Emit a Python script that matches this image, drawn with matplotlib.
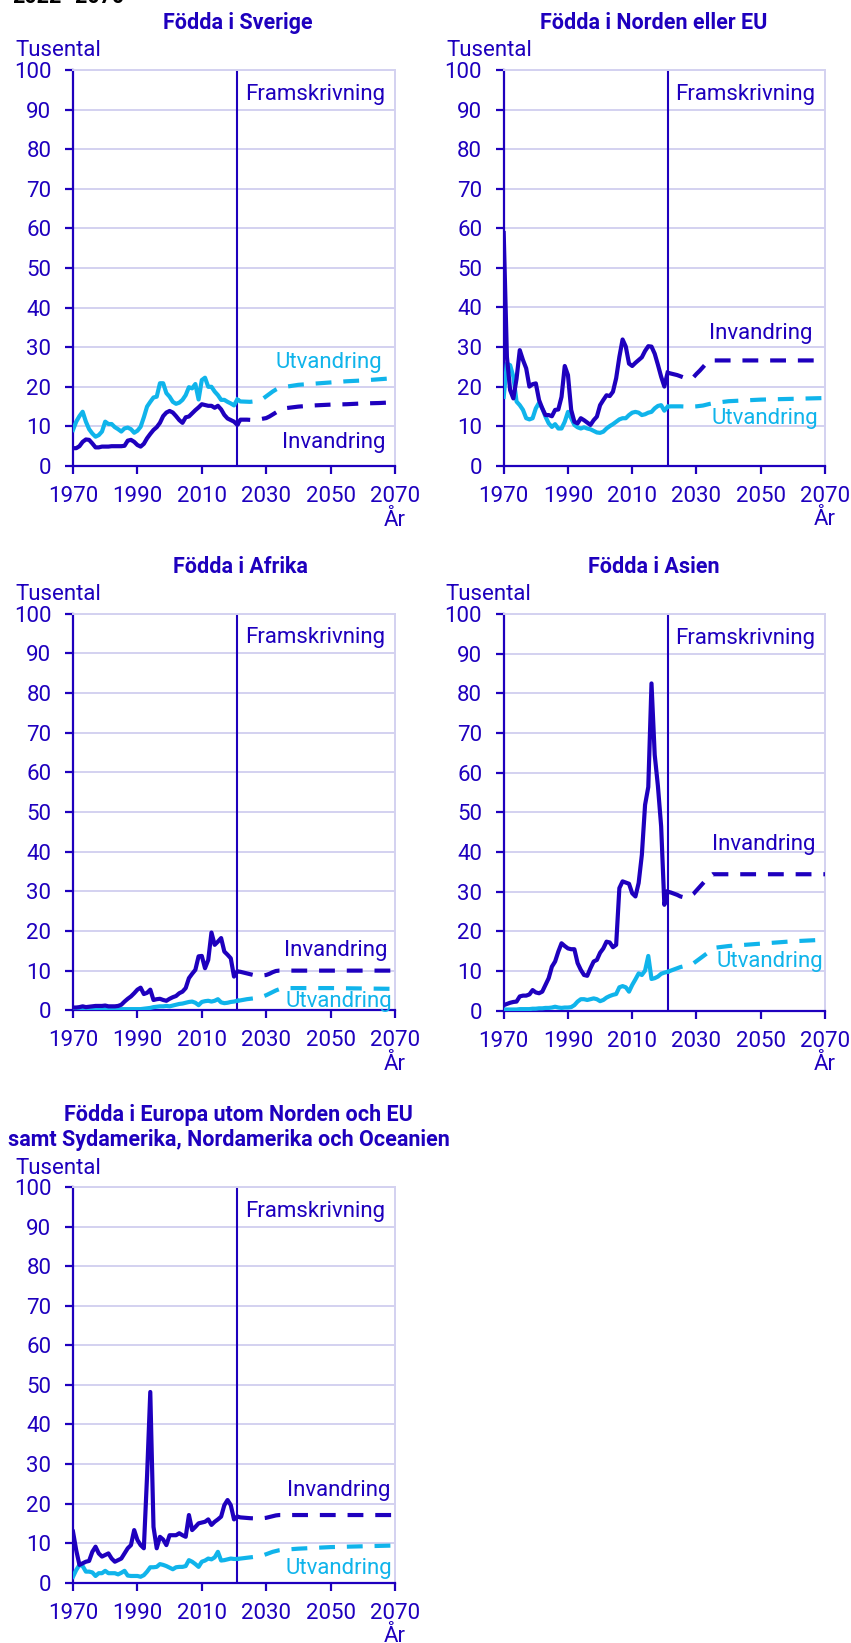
import matplotlib
matplotlib.use('Agg')
import matplotlib.pyplot as plt

W, H = 851, 1643
DARK = '#1E00BE'
LIGHT = '#10B4EB'
GRID = '#D3D1F0'

plt.rcParams['font.family'] = ['Roboto', 'DejaVu Sans']

# ---------------- data (thousands) ----------------
hist_years = list(range(1970, 2022))

sverige_inv = [4.5, 4.5, 5.0, 6.1, 6.7, 6.6, 5.7, 4.7, 4.7, 4.9,
               4.9, 4.9, 5.0, 5.0, 5.0, 5.0, 5.1, 6.4, 6.6, 6.1,
               5.3, 4.9, 5.6, 7.0, 8.1, 9.1, 9.8, 10.9, 12.6, 13.5,
               13.9, 13.5, 12.6, 11.6, 10.9, 12.3, 12.5, 13.3, 14.1, 14.8,
               15.6, 15.4, 15.2, 15.2, 14.7, 15.2, 14.3, 12.9, 12.0, 11.6,
               11.2, 10.4]
sverige_utv = [9.1, 11.2, 12.6, 13.7, 11.2, 9.3, 8.2, 7.4, 7.8, 8.7,
               11.2, 10.6, 10.6, 9.8, 9.3, 8.7, 9.5, 9.7, 9.3, 8.4,
               8.9, 9.9, 12.3, 15.0, 16.2, 17.3, 17.5, 20.9, 20.9, 18.4,
               17.5, 16.2, 15.7, 16.0, 16.7, 17.9, 19.9, 19.6, 20.7, 16.8,
               21.7, 22.3, 20.0, 20.0, 18.8, 17.9, 16.7, 16.7, 16.2, 15.8,
               15.3, 16.8]
sverige_inv_proj_years = [2021, 2022, 2024, 2026, 2028, 2030, 2031, 2032, 2033, 2034,
                          2035, 2036, 2038, 2040, 2045, 2050, 2055, 2060, 2065, 2070]
sverige_inv_proj = [10.4, 11.7, 11.7, 11.6, 11.8, 12.1, 12.5, 13.0, 13.5, 14.0,
                    14.3, 14.6, 14.8, 15.0, 15.3, 15.5, 15.6, 15.8, 15.9, 16.1]
sverige_utv_proj_years = [2021, 2022, 2025, 2027, 2028, 2029, 2030, 2031, 2032, 2033,
                          2034, 2035, 2036, 2040, 2045, 2050, 2055, 2060, 2065, 2070]
sverige_utv_proj = [16.8, 16.3, 16.2, 16.4, 16.6, 17.0, 17.6, 18.2, 18.8, 19.3,
                    19.7, 19.9, 20.0, 20.5, 20.8, 21.1, 21.4, 21.6, 21.9, 22.2]

norden_inv = [58.8, 27.5, 19.1, 17.0, 22.0, 29.2, 26.7, 24.6, 20.0, 20.6,
              20.8, 16.6, 14.5, 12.8, 12.8, 12.5, 14.1, 14.2, 17.4, 25.2,
              22.9, 14.1, 11.1, 10.7, 12.0, 11.5, 10.9, 10.3, 11.5, 12.4,
              15.3, 16.6, 17.8, 17.6, 18.7, 22.1, 27.5, 31.9, 30.1, 25.8,
              25.2, 26.0, 26.7, 27.4, 29.0, 30.2, 30.1, 28.3, 25.5, 22.5,
              20.0, 23.5]
norden_utv = [17.4, 25.8, 25.4, 22.5, 16.2, 15.3, 14.1, 12.0, 11.7, 12.0,
              14.5, 15.9, 14.5, 12.4, 10.7, 9.8, 10.5, 9.4, 9.4, 11.1,
              13.6, 12.0, 10.3, 9.7, 9.4, 9.7, 9.4, 9.2, 8.8, 8.4,
              8.3, 8.6, 9.4, 10.0, 10.5, 11.1, 11.7, 12.0, 12.0, 12.8,
              13.4, 13.6, 13.4, 12.8, 13.0, 13.4, 13.6, 14.5, 15.1, 15.3,
              13.9, 14.9]
norden_inv_proj_years = [2021, 2022, 2023, 2024, 2025, 2026, 2027, 2028, 2029, 2030,
                         2031, 2032, 2033, 2034, 2035, 2070]
norden_inv_proj = [23.5, 23.3, 23.1, 22.9, 22.6, 22.3, 22.0, 21.9, 22.3, 23.2,
                   24.0, 24.9, 25.8, 26.4, 26.6, 26.6]
norden_utv_proj_years = [2021, 2022, 2025, 2028, 2030, 2032, 2034, 2036, 2040, 2045,
                         2050, 2055, 2060, 2065, 2070]
norden_utv_proj = [14.9, 15.0, 15.0, 14.9, 15.0, 15.2, 15.6, 15.9, 16.3, 16.5,
                   16.7, 16.8, 16.9, 17.0, 17.1]

afrika_inv = [0.7, 0.7, 0.8, 1.0, 0.8, 0.9, 1.0, 1.1, 1.1, 1.1,
              1.2, 1.0, 1.0, 1.0, 1.1, 1.4, 2.2, 2.9, 3.5, 4.3,
              5.2, 5.7, 4.1, 4.4, 5.2, 2.6, 2.8, 2.9, 2.6, 2.4,
              2.9, 3.3, 3.6, 4.3, 4.7, 5.6, 8.1, 9.2, 10.2, 13.6,
              13.7, 10.6, 12.7, 19.6, 16.5, 17.3, 18.2, 14.8, 14.0, 13.1,
              8.5, 9.8]
afrika_utv = [0.2, 0.2, 0.2, 0.3, 0.3, 0.3, 0.3, 0.3, 0.3, 0.3,
              0.3, 0.3, 0.3, 0.3, 0.3, 0.3, 0.3, 0.3, 0.3, 0.3,
              0.3, 0.3, 0.4, 0.5, 0.6, 0.8, 0.9, 1.0, 1.0, 1.1,
              1.0, 1.2, 1.4, 1.6, 1.7, 1.9, 2.1, 2.2, 1.9, 1.3,
              2.1, 2.3, 2.4, 2.2, 2.4, 2.8, 2.0, 1.8, 1.9, 2.1,
              2.2, 2.4]
afrika_inv_proj_years = [2021, 2022, 2023, 2024, 2025, 2026, 2027, 2028, 2029, 2030,
                         2031, 2032, 2033, 2034, 2035, 2070]
afrika_inv_proj = [9.8, 9.7, 9.5, 9.3, 9.1, 8.9, 8.8, 8.8, 8.8, 8.9,
                   9.2, 9.6, 9.9, 10.0, 10.0, 10.0]
afrika_utv_proj_years = [2021, 2022, 2024, 2026, 2028, 2029, 2030, 2031, 2032, 2033,
                         2034, 2035, 2036, 2040, 2050, 2060, 2070]
afrika_utv_proj = [2.4, 2.5, 2.8, 3.0, 3.2, 3.5, 3.8, 4.2, 4.6, 5.0,
                   5.3, 5.5, 5.6, 5.6, 5.6, 5.5, 5.4]

asien_inv = [1.4, 1.7, 2.0, 2.2, 2.3, 3.6, 3.8, 3.8, 4.1, 5.2,
             4.6, 4.4, 4.8, 6.5, 8.2, 11.1, 12.4, 14.9, 17.0, 16.3,
             15.7, 15.5, 15.5, 12.0, 10.3, 9.0, 8.8, 10.7, 12.4, 12.8,
             14.6, 15.7, 17.4, 17.2, 16.0, 16.6, 30.9, 32.6, 32.3, 32.0,
             29.6, 28.8, 32.2, 39.3, 51.9, 56.4, 82.5, 64.5, 56.6, 46.5,
             26.7, 30.0]
asien_utv = [0.3, 0.3, 0.3, 0.3, 0.3, 0.4, 0.4, 0.4, 0.4, 0.5,
             0.5, 0.6, 0.6, 0.7, 0.7, 0.8, 1.0, 0.8, 0.7, 0.8,
             0.8, 0.9, 1.4, 2.3, 2.9, 2.9, 2.7, 2.9, 3.1, 2.9,
             2.4, 2.7, 3.3, 3.7, 4.0, 4.2, 5.9, 6.2, 5.9, 4.8,
             6.5, 7.9, 9.4, 9.0, 10.1, 13.8, 8.0, 8.2, 8.6, 9.3,
             9.6, 9.8]
asien_inv_proj_years = [2021, 2022, 2023, 2024, 2025, 2026, 2027, 2028, 2029, 2030,
                        2031, 2032, 2033, 2034, 2035, 2070]
asien_inv_proj = [30.0, 29.8, 29.5, 29.2, 28.8, 28.6, 28.5, 28.8, 29.4, 30.3,
                  31.2, 32.1, 33.0, 33.8, 34.4, 34.4]
asien_utv_proj_years = [2021, 2022, 2023, 2024, 2025, 2026, 2027, 2028, 2029, 2030,
                        2031, 2032, 2033, 2034, 2035, 2036, 2040, 2045, 2050, 2055,
                        2060, 2065, 2070]
asien_utv_proj = [9.8, 10.1, 10.4, 10.7, 11.0, 11.2, 11.4, 11.6, 11.9, 12.5,
                  13.1, 13.7, 14.3, 14.9, 15.5, 15.9, 16.3, 16.6, 16.9, 17.2,
                  17.5, 17.7, 17.9]

europa_inv = [12.9, 8.2, 4.5, 4.9, 5.3, 5.5, 7.8, 9.1, 7.4, 6.6,
              7.0, 7.4, 6.1, 5.3, 5.7, 6.1, 7.4, 8.7, 9.5, 13.3,
              10.8, 9.5, 8.7, 27.0, 48.2, 14.1, 8.7, 11.6, 10.9, 9.5,
              12.0, 12.0, 12.0, 12.5, 12.0, 11.6, 17.1, 13.3, 14.1, 15.0,
              15.2, 15.4, 16.0, 14.6, 15.4, 16.0, 16.7, 19.6, 20.9, 19.6,
              16.0, 16.7]
europa_utv = [1.5, 3.2, 4.5, 4.2, 2.8, 2.8, 2.6, 1.7, 2.4, 2.4,
              3.0, 2.4, 2.4, 2.4, 2.1, 2.5, 3.0, 1.8, 1.7, 1.7,
              1.7, 1.5, 1.9, 2.8, 3.9, 3.9, 4.0, 4.7, 4.5, 4.2,
              3.8, 3.4, 3.9, 4.0, 4.0, 4.2, 5.7, 5.3, 4.7, 4.0,
              5.3, 5.6, 6.1, 5.9, 6.4, 7.8, 5.6, 5.7, 5.9, 6.1,
              6.0, 6.0]
europa_inv_proj_years = [2021, 2022, 2025, 2028, 2029, 2030, 2031, 2032, 2033, 2034, 2070]
europa_inv_proj = [16.7, 16.5, 16.3, 16.2, 16.3, 16.4, 16.6, 16.8, 17.0, 17.1, 17.1]
europa_utv_proj_years = [2021, 2022, 2023, 2024, 2025, 2026, 2027, 2028, 2029, 2030,
                         2031, 2032, 2033, 2034, 2035, 2040, 2045, 2050, 2055, 2060,
                         2065, 2070]
europa_utv_proj = [6.0, 6.1, 6.2, 6.3, 6.4, 6.5, 6.6, 6.7, 6.9, 7.2,
                   7.5, 7.8, 8.0, 8.2, 8.3, 8.6, 8.8, 9.0, 9.1, 9.2,
                   9.3, 9.4]

x_ticks = [1970, 1990, 2010, 2030, 2050, 2070]
y_ticks = list(range(0, 101, 10))
projection_start = 2021

titles = ['Födda i Sverige', 'Födda i Norden eller EU', 'Födda i Afrika',
          'Födda i Asien',
          'Födda i Europa utom Norden och EU\nsamt Sydamerika, Nordamerika och Oceanien']

# ---------------- figure ----------------
fig = plt.figure(figsize=(W / 100, H / 100), dpi=100)
FS = 16
TFS = 15.5


def ftext(x, y, s, **kw):
    return fig.text(x / W, 1 - y / H, s, **kw)


def make_axes(left, top, right, bottom):
    return fig.add_axes([left / W, 1 - bottom / H, (right - left) / W, (bottom - top) / H])


panels = [
    dict(box=(73, 70, 395, 466), title=(237.5, 23), tus=(15.7, 51),
         inv=sverige_inv, utv=sverige_utv,
         invp=(sverige_inv_proj_years, sverige_inv_proj),
         utvp=(sverige_utv_proj_years, sverige_utv_proj),
         inv_lab=(2067.1, 5.9), utv_lab=(2066.0, 26.1)),
    dict(box=(503.7, 70, 825, 465.7), title=(653.7, 23), tus=(446.7, 51),
         inv=norden_inv, utv=norden_utv,
         invp=(norden_inv_proj_years, norden_inv_proj),
         utvp=(norden_utv_proj_years, norden_utv_proj),
         inv_lab=(2066.2, 33.4), utv_lab=(2067.9, 12.0)),
    dict(box=(73, 613.5, 395, 1010.3), title=(240, 567), tus=(15.7, 595),
         inv=afrika_inv, utv=afrika_utv,
         invp=(afrika_inv_proj_years, afrika_inv_proj),
         utvp=(afrika_utv_proj_years, afrika_utv_proj),
         inv_lab=(2067.6, 15.0), utv_lab=(2069.0, 2.2)),
    dict(box=(503.7, 614, 825, 1010.7), title=(654, 567), tus=(445.7, 595),
         inv=asien_inv, utv=asien_utv,
         invp=(asien_inv_proj_years, asien_inv_proj),
         utvp=(asien_utv_proj_years, asien_utv_proj),
         inv_lab=(2067.0, 41.8), utv_lab=(2069.4, 12.5)),
    dict(box=(73, 1187, 395, 1582.7), title=None, tus=(15.7, 1168),
         inv=europa_inv, utv=europa_utv,
         invp=(europa_inv_proj_years, europa_inv_proj),
         utvp=(europa_utv_proj_years, europa_utv_proj),
         inv_lab=(2068.6, 23.2), utv_lab=(2069.0, 3.6)),
]

LW = 3.0
DASH = (3.8, 2.85)

for i, p in enumerate(panels):
    ax = make_axes(*p['box'])
    ax.set_xlim(1970, 2070)
    ax.set_ylim(0, 100)
    ax.set_xticks(x_ticks)
    ax.set_yticks(y_ticks)
    ax.grid(axis='y', color=GRID, lw=1.4)
    ax.set_axisbelow(True)
    for side in ('left', 'bottom'):
        ax.spines[side].set_color(DARK)
        ax.spines[side].set_linewidth(1.6)
    for side in ('top', 'right'):
        ax.spines[side].set_color(GRID)
        ax.spines[side].set_linewidth(1.4)
    ax.tick_params(axis='both', colors=DARK, labelsize=FS, length=5.5, width=1.6)
    ax.tick_params(axis='y', pad=10.0)
    ax.tick_params(axis='x', pad=9.0)
    ax.axvline(projection_start, color=DARK, lw=1.5, zorder=2)

    ax.plot(hist_years, p['utv'], color=LIGHT, lw=LW, solid_joinstyle='round', zorder=3)
    ax.plot(hist_years, p['inv'], color=DARK, lw=LW, solid_joinstyle='round', zorder=4)
    ax.plot(p['utvp'][0], p['utvp'][1], color=LIGHT, lw=LW, dashes=DASH,
            dash_capstyle='butt', zorder=3)
    ax.plot(p['invp'][0], p['invp'][1], color=DARK, lw=LW, dashes=DASH,
            dash_capstyle='butt', zorder=4)

    ax.text(2023.5, 93.9, 'Framskrivning', color=DARK, fontsize=FS, ha='left', va='center')
    ax.text(p['inv_lab'][0], p['inv_lab'][1], 'Invandring', color=DARK, fontsize=FS,
            ha='right', va='center', zorder=5)
    ax.text(p['utv_lab'][0], p['utv_lab'][1], 'Utvandring', color=LIGHT, fontsize=FS,
            ha='right', va='center', zorder=5)
    ax.text(1.0, -54 / (p['box'][3] - p['box'][1]), 'År', transform=ax.transAxes,
            color=DARK, fontsize=FS, ha='center', va='center')

    if p['title'] is not None:
        ftext(p['title'][0], p['title'][1], titles[i], color=DARK, fontsize=TFS,
              fontweight='bold', ha='center', va='center')
    ftext(p['tus'][0], p['tus'][1], 'Tusental', color=DARK, fontsize=FS,
          ha='left', va='center')

t1, t2 = titles[4].split('\n')
ftext(238.7, 1115, t1, color=DARK, fontsize=TFS, fontweight='bold', ha='center', va='center')
ftext(229.3, 1140, t2, color=DARK, fontsize=TFS, fontweight='bold', ha='center', va='center')

# cropped header from the original page
ftext(12, 2.7, '2022–2070', color='black', fontsize=15.5, fontweight='bold',
      ha='left', va='baseline')

fig.savefig('out.png', dpi=100, facecolor='white')
